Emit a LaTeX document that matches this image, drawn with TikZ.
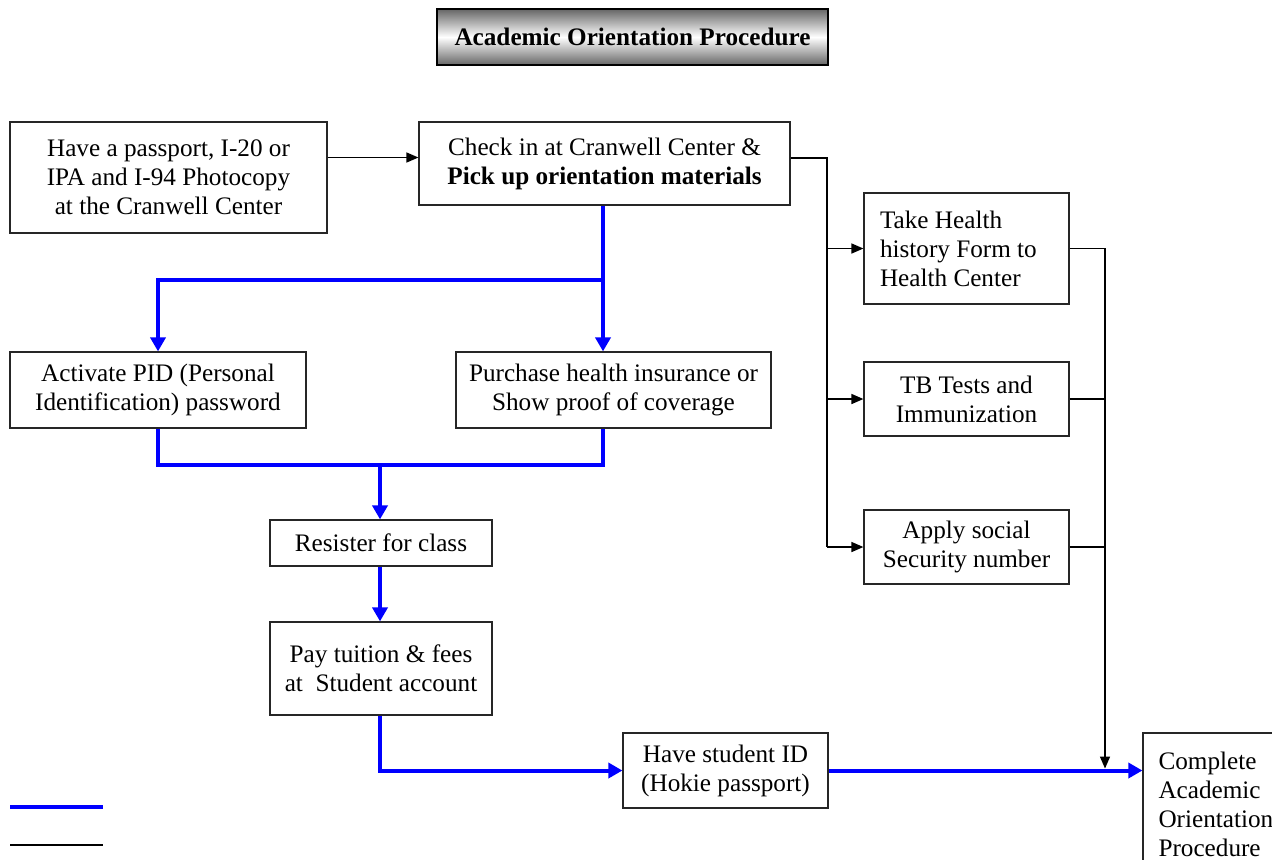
\documentclass[tikz,border=0pt]{standalone}
\usepackage{fontspec}
\setmainfont{Liberation Serif}
\usetikzlibrary{arrows.meta, positioning, calc}
\definecolor{flowblue}{RGB}{0,0,255}

\begin{document}
\begin{tikzpicture}[
    x=0.5pt, y=-0.5pt,
    every node/.style={font=\fontsize{12.6}{14.5}\selectfont, align=center, inner sep=0pt},
    box/.style={rectangle, draw=black!85, line width=0.6pt},
    boxl/.style={box, align=flush left},
    titlebox/.style={rectangle, draw=black, line width=0.7pt,
                     top color=black!60, bottom color=black!60, middle color=white},
    line/.style={line width=0.75pt},
    arr/.style={line, -{Triangle[length=6pt,width=5pt]}},
    bline/.style={flowblue, line width=2pt},
    barr/.style={bline, -{Triangle[length=7pt,width=7.5pt]}}
  ]
    \useasboundingbox (0,0) rectangle (1272,859);

    % title
    \node[titlebox, minimum width=195.5pt, minimum height=28pt,
          font=\fontsize{12.6}{14.5}\selectfont\bfseries] (title) at (632.5,37) {Academic Orientation Procedure};

    % top row
    \node[box, minimum width=158.5pt, minimum height=55.5pt] (passport) at (168.5,177.5)
        {Have a passport, I-20 or\\IPA and I-94 Photocopy\\at the Cranwell Center};
    \node[box, minimum width=185.5pt, minimum height=41.5pt] (checkin) at (604.5,163.5)
        {Check in at Cranwell Center \&\\\textbf{Pick up orientation materials}};

    % health column
    \node[boxl, minimum width=102.5pt, minimum height=55.5pt, text width=86.5pt] (health) at (966.5,248.5)
        {Take Health\\history Form to\\Health Center};
    \node[box, minimum width=102.5pt, minimum height=37pt] (tb) at (966.5,399)
        {TB Tests and\\Immunization};
    \node[box, minimum width=102.5pt, minimum height=37pt] (ssn) at (966.5,547)
        {Apply social\\Security number};

    % blue path
    \node[box, minimum width=148pt, minimum height=38pt] (pid) at (158,390)
        {Activate PID (Personal\\Identification) password};
    \node[box, minimum width=157.5pt, minimum height=38pt] (insurance) at (613.5,390)
        {Purchase health insurance or\\Show proof of coverage};
    \node[box, minimum width=111pt, minimum height=23pt] (register) at (381,543)
        {Resister for class};
    \node[box, minimum width=111pt, minimum height=46.5pt] (pay) at (381,668.5)
        {Pay tuition \& fees\\at\ \ Student account};
    \node[box, minimum width=102.5pt, minimum height=37.5pt] (studentid) at (725.5,770.5)
        {Have student ID\\(Hokie passport)};
    \node[boxl, minimum width=73.5pt, minimum height=71pt, text width=58pt] (done) at (1216.5,804)
        {Complete\\Academic\\Orientation\\Procedure};

    % black connectors
    \coordinate (ckin) at ($(checkin.west)+(0,-6)$);
    \draw[arr] (passport.east |- ckin) -- (ckin);
    \coordinate (rtrunk) at (827,158);
    \draw[line] (checkin.east |- rtrunk) -- (rtrunk) -- (rtrunk |- ssn.west);
    \foreach \n in {health, tb, ssn} {\draw[arr] (rtrunk |- \n.west) -- (\n.west);}
    \coordinate (ltrunk) at (1105,250);
    \draw[arr, shorten >=1pt] (health.east) -| (ltrunk |- studentid.east);
    \foreach \n in {tb, ssn} {\draw[line] (\n.east) -- (ltrunk |- \n.east);}

    % blue connectors
    \coordinate (split) at (603,280);
    \draw[barr] (checkin.south -| split) -- (split |- insurance.north);
    \draw[barr] (split) -| (pid.north);
    \coordinate (merge) at (380,465);
    \draw[bline] (pid.south) |- (split |- merge) -- (split |- insurance.south);
    \draw[barr] (merge) -- (merge |- register.north);
    \draw[barr] (register.south -| merge) -- (merge |- pay.north);
    \draw[barr] (pay.south -| merge) |- (studentid.west);
    \draw[barr] (studentid.east) -- (studentid.east -| done.west);

    % legend
    \draw[bline] (10,807) -- (103,807);
    \draw[line] (10,845) -- (103,845);
\end{tikzpicture}
\end{document}
